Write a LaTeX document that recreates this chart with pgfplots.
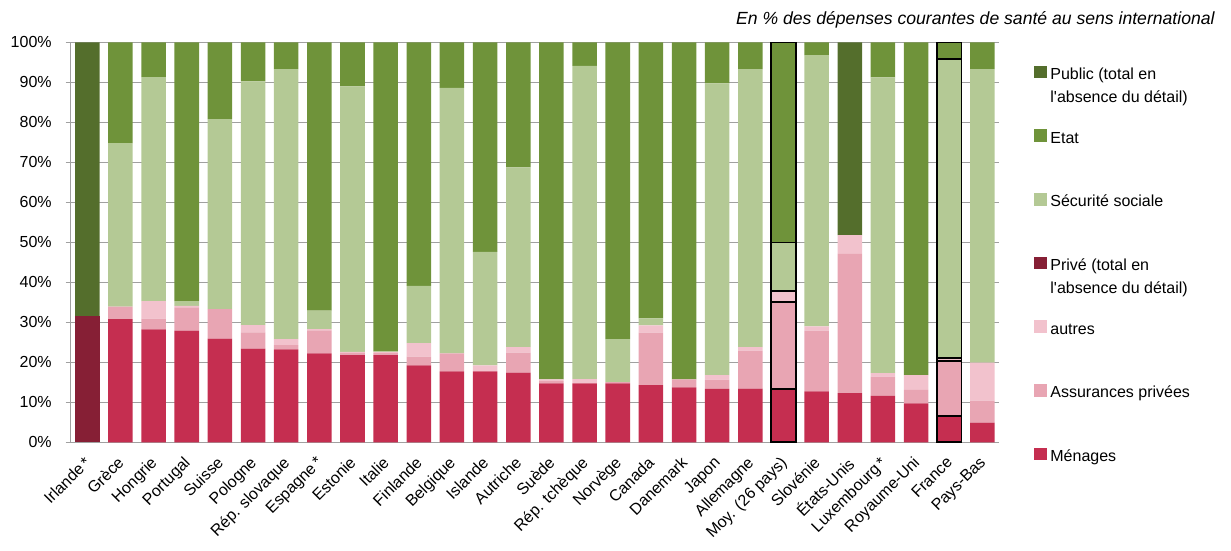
\documentclass[border=0pt]{standalone}
\usepackage{fontspec}
\setmainfont{Liberation Sans}[Ligatures=TeXOff]
\usepackage{pgfplots}
\usepackage{pgfplotstable}
\pgfplotsset{compat=1.18}

\definecolor{cPublic}{HTML}{546E2C}
\definecolor{cEtat}{HTML}{6F933A}
\definecolor{cSecu}{HTML}{B4C995}
\definecolor{cPrive}{HTML}{861F35}
\definecolor{cAutres}{HTML}{F2C2CD}
\definecolor{cAssur}{HTML}{E8A5B3}
\definecolor{cMenages}{HTML}{C52E50}
\definecolor{cGrid}{HTML}{A0A0A0}

\newcommand\chartfont{\fontsize{8}{11.5}\selectfont}

% Shares of current health expenditure (%), by financing agent
\pgfplotstableread{
x  men   ass   aut   priv  ss    etat  pub
0  0     0     0     31.6  0     0     68.4
1  30.8  3.1   0     0     40.9  25.2  0
2  28.2  2.7   4.4   0     56.0  8.7   0
3  27.9  5.8   0.4   0     1.2   64.7  0
4  25.9  7.4   0     0     47.5  19.2  0
5  23.4  4.1   1.8   0     60.9  9.8   0
6  23.2  1.1   1.5   0     67.5  6.7   0
7  22.2  5.8   0.3   0     4.6   67.1  0
8  21.8  0.5   0.3   0     66.4  11.0  0
9  21.8  0.5   0.3   0     0.2   77.2  0
10 19.2  2.2   3.4   0     14.3  60.9  0
11 17.7  4.55  0     0     66.35 11.4  0
12 17.7  0     1.5   0     28.4  52.4  0
13 17.4  5.0   1.4   0     44.95 31.25 0
14 14.7  0.6   0.45  0     0     84.25 0
15 14.7  0     1.1   0     78.3  5.9   0
16 14.7  0.35  0     0     10.75 74.2  0
17 14.3  13.1  1.85  0     1.75  69.0  0
18 13.7  2.05  0     0     0     84.25 0
19 13.35 2.3   1.15  0     72.9  10.3  0
20 13.4  9.5   0.9   0     69.5  6.7   0
21 13.25 21.85 2.7   0     12.1  50.1  0
22 12.7  15.2  1.1   0     67.8  3.2   0
23 12.3  34.8  4.7   0     0     0     48.2
24 11.6  4.8   0.9   0     73.9  8.8   0
25 9.7   3.4   3.7   0     0     83.2  0
26 6.6   13.7  0.8   0     74.7  4.2   0
27 4.9   5.5   9.5   0     73.4  6.7   0
}\depenses

% Average and France, drawn again with an outline
\pgfplotstableread{
x  men   ass   aut   ss    etat
21 13.25 21.85 2.7   12.1  50.1
26 6.6   13.7  0.8   74.7  4.2
}\encadres

\pgfplotsset{
  common/.style={
    scale only axis, width=464.15pt, height=200pt,
    xmin=-0.5, xmax=27.5, ymin=0, ymax=100,
    ybar stacked, bar width=0.74,
  },
}

\begin{document}
\begin{tikzpicture}[font=\chartfont]
\begin{axis}[
  common, name=main, at={(0,0)}, anchor=south west,
  clip=false,
  axis x line*=bottom, axis y line*=left,
  axis line style={draw=cGrid, line width=0.75pt},
  ymajorgrids, grid style={draw=cGrid, line width=0.75pt},
  xtick={0,...,27},
  xticklabels={Irlande\,*, Grèce, Hongrie, Portugal, Suisse, Pologne,
    Rép. slovaque, Espagne\,*, Estonie, Italie, Finlande, Belgique, Islande,
    Autriche, Suède, Rép. tchèque, Norvège, Canada, Danemark, Japon,
    Allemagne, Moy. (26 pays), Slovénie, États-Unis, Luxembourg\,*,
    Royaume-Uni, France, Pays-Bas},
  x tick label style={xshift=-2pt, yshift=-2.5pt, rotate=45, anchor=north east, inner sep=1pt},
  xtick style={draw=none},
  ytick={0,10,...,100},
  yticklabels={0\%,10\%,20\%,30\%,40\%,50\%,60\%,70\%,80\%,90\%,100\%},
  y tick label style={xshift=-3.5pt},
  ytick style={draw=cGrid, line width=0.75pt},
  tick align=outside, major tick length=2.5pt,
  tick label style={font=\chartfont},
  legend image code/.code={\fill[#1] (0pt,0.6pt) rectangle (6.3pt,6.9pt);},
  reverse legend,
  legend style={at={(1.0377,0.9485)}, anchor=north west, draw=none, fill=none,
    inner sep=0pt, row sep=22.3pt, column sep=1.7pt, font=\chartfont,
    cells={anchor=base west}, nodes={inner sep=0pt}},
]
\addplot[fill=cMenages, draw=none] table[x=x, y=men]{\depenses};
\addlegendentry{\parbox[t]{90pt}{\strut Ménages}}
\addplot[fill=cAssur, draw=none] table[x=x, y=ass]{\depenses};
\addlegendentry{\parbox[t]{90pt}{\strut Assurances privées}}
\addplot[fill=cAutres, draw=none] table[x=x, y=aut]{\depenses};
\addlegendentry{\parbox[t]{90pt}{\strut autres}}
\addplot[fill=cPrive, draw=none] table[x=x, y=priv]{\depenses};
\addlegendentry{\parbox[t]{90pt}{\strut Privé (total en\\l'absence du détail)}}
\addplot[fill=cSecu, draw=none] table[x=x, y=ss]{\depenses};
\addlegendentry{\parbox[t]{90pt}{\strut Sécurité sociale}}
\addplot[fill=cEtat, draw=none] table[x=x, y=etat]{\depenses};
\addlegendentry{\parbox[t]{90pt}{\strut Etat}}
\addplot[fill=cPublic, draw=none] table[x=x, y=pub]{\depenses};
\addlegendentry{\parbox[t]{90pt}{\strut Public (total en\\l'absence du détail)}}

\node[anchor=base east, inner sep=0pt, font=\fontsize{8.8}{10}\selectfont\itshape]
  at (rel axis cs:1.2327,1.0433)
  {En \% des dépenses courantes de santé au sens international};
\end{axis}

\begin{axis}[common, at={(main.south west)}, anchor=south west, hide axis]
\addplot[fill=none, draw=black, line width=0.8pt] table[x=x, y=men]{\encadres};
\addplot[fill=none, draw=black, line width=0.8pt] table[x=x, y=ass]{\encadres};
\addplot[fill=none, draw=black, line width=0.8pt] table[x=x, y=aut]{\encadres};
\addplot[fill=none, draw=black, line width=0.8pt] table[x=x, y=ss]{\encadres};
\addplot[fill=none, draw=black, line width=0.8pt] table[x=x, y=etat]{\encadres};
\end{axis}

\pgfresetboundingbox
\path[use as bounding box] ([shift={(-35.35pt,-54.35pt)}]main.south west)
  rectangle ++(615.5pt,275.5pt);
\end{tikzpicture}
\end{document}
